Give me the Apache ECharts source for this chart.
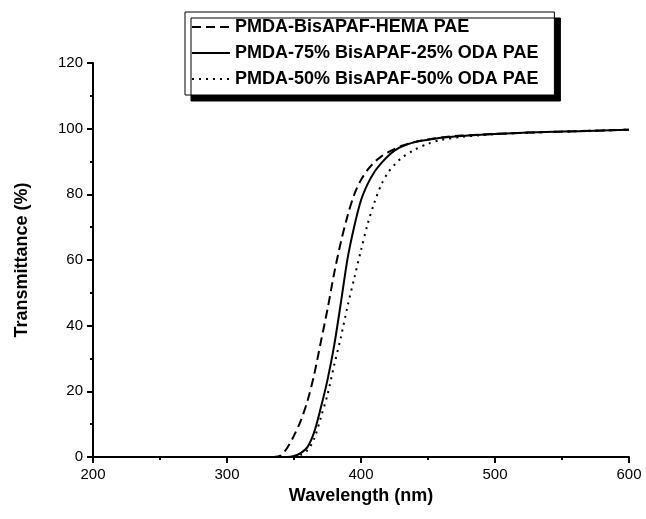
<!DOCTYPE html>
<html>
<head>
<meta charset="utf-8">
<script src="https://cdn.jsdelivr.net/npm/echarts@6/dist/echarts.min.js"></script>
<style>
  html, body { margin: 0; padding: 0; background: #fff; }
  #main { width: 646px; height: 519px; }
</style>
</head>
<body>
<div id="main"></div>
<script>
// wavelength grid (nm) and transmittance (%)
var wavelengths = [240, 300, 335, 340, 345, 350, 355, 360, 365, 370, 375, 380, 385, 390, 395, 400,
                   405, 410, 415, 420, 425, 430, 440, 450, 460, 475, 500, 525, 550, 575, 600];
var hemaPAE = [0, 0, 0, 0.4, 2.8, 6.5, 11, 17, 25, 35, 45, 56, 65.5, 73.5, 80, 84.4,
               87.5, 89.8, 91.5, 92.8, 93.8, 94.7, 95.9, 96.7, 97.3, 97.9, 98.4, 98.8, 99.1, 99.4, 99.7];
var oda25PAE = [0, 0, 0, 0, 0, 0.3, 1.2, 3, 7.5, 15, 23.5, 34, 47, 60.5, 70.3, 78.2,
                83.2, 86.8, 89.4, 91.6, 93.3, 94.5, 95.9, 96.6, 97.2, 97.8, 98.4, 98.8, 99.1, 99.4, 99.7];
var oda50PAE = [0, 0, 0, 0, 0, 0, 0.6, 2, 5.5, 12, 19, 28, 36.5, 46, 54.5, 63,
                71, 77.5, 82.8, 86.5, 89, 91, 93.6, 95.4, 96.6, 97.5, 98.3, 98.8, 99.1, 99.4, 99.7];
var seriesNames = ['PMDA-BisAPAF-HEMA PAE', 'PMDA-75% BisAPAF-25% ODA PAE', 'PMDA-50% BisAPAF-50% ODA PAE'];

function pairs(ys) {
  return wavelengths.map(function (x, i) { return [x, ys[i]]; });
}

var font = 'Arial, "Liberation Sans", sans-serif';
var chart = echarts.init(document.getElementById('main'));

function lineSeries(name, ys, type) {
  return {
    name: name,
    type: 'line',
    data: pairs(ys),
    smooth: 0.3,
    symbol: 'none',
    lineStyle: { color: '#000', width: 2, type: type },
    itemStyle: { color: '#000' }
  };
}

chart.setOption({
  animation: false,
  backgroundColor: '#fff',
  grid: { left: 93, right: 17, top: 63, bottom: 62 },
  legend: {
    orient: 'vertical',
    left: 185,
    top: 12,
    itemWidth: 38,
    itemHeight: 14,
    itemGap: 8,
    padding: [6, 16, 7, 6],
    backgroundColor: '#fff',
    borderColor: '#000',
    borderWidth: 1,
    borderRadius: 0,
    shadowColor: '#000',
    shadowBlur: 0,
    shadowOffsetX: 6,
    shadowOffsetY: 6,
    itemStyle: { color: 'transparent', borderWidth: 0 },
    textStyle: { color: '#000', fontFamily: font, fontWeight: 'bold', fontSize: 18 },
    data: seriesNames
  },
  xAxis: {
    type: 'value',
    min: 200,
    max: 600,
    interval: 100,
    name: 'Wavelength (nm)',
    nameLocation: 'middle',
    nameGap: 28,
    nameTextStyle: { color: '#000', fontFamily: font, fontWeight: 'bold', fontSize: 18 },
    axisLine: { lineStyle: { color: '#000', width: 2 } },
    axisTick: { inside: false, length: 6, lineStyle: { color: '#000', width: 2 } },
    minorTick: { show: true, splitNumber: 2, length: 3, lineStyle: { color: '#000', width: 2 } },
    splitLine: { show: false },
    axisLabel: { color: '#000', fontFamily: font, fontSize: 15, margin: 10 }
  },
  yAxis: {
    type: 'value',
    min: 0,
    max: 120,
    interval: 20,
    name: 'Transmittance (%)',
    nameLocation: 'middle',
    nameGap: 62,
    nameTextStyle: { color: '#000', fontFamily: font, fontWeight: 'bold', fontSize: 18 },
    axisLine: { show: true, lineStyle: { color: '#000', width: 2 } },
    axisTick: { show: true, inside: false, length: 6, lineStyle: { color: '#000', width: 2 } },
    minorTick: { show: true, splitNumber: 2, length: 3, lineStyle: { color: '#000', width: 2 } },
    splitLine: { show: false },
    axisLabel: { color: '#000', fontFamily: font, fontSize: 15, margin: 10 }
  },
  series: [
    lineSeries(seriesNames[0], hemaPAE, [9, 5]),
    lineSeries(seriesNames[1], oda25PAE, 'solid'),
    lineSeries(seriesNames[2], oda50PAE, [2, 5])
  ]
});
</script>
</body>
</html>
